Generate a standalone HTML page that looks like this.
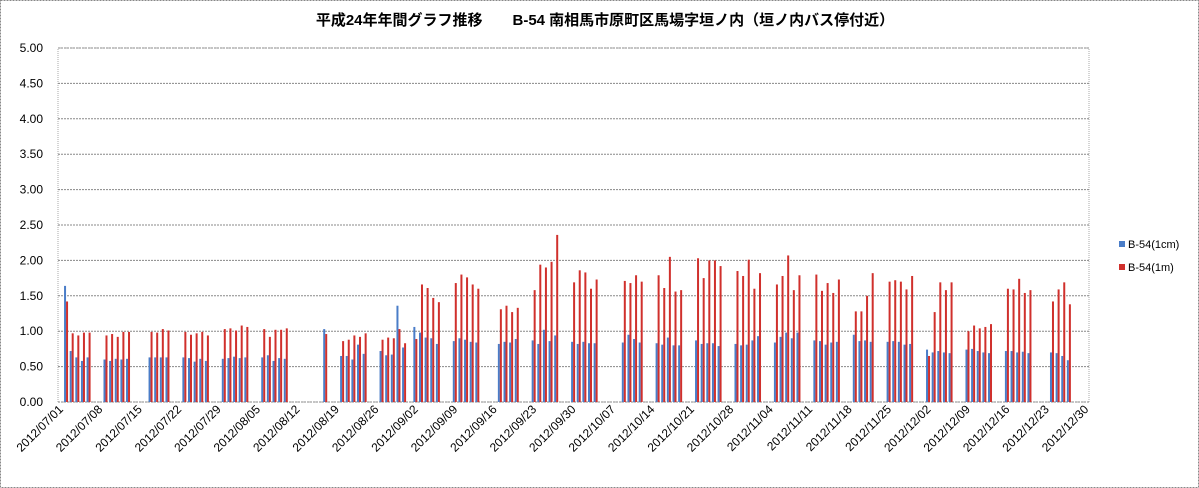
<!DOCTYPE html>
<html><head><meta charset="utf-8"><style>
html,body{margin:0;padding:0;background:#fff}
#wrap{position:relative;width:1199px;height:488px;overflow:hidden}
svg text{font-family:"Liberation Sans","Noto Sans CJK JP",sans-serif}
</style></head><body>
<div id="wrap">
<svg id="chart" width="1199" height="488" viewBox="0 0 1199 488" xmlns="http://www.w3.org/2000/svg">
<rect x="0.5" y="0.5" width="1198" height="487" fill="#fff" stroke="#888" stroke-dasharray="2,1"/>
<text x="605" y="25" text-anchor="middle" font-size="15" font-weight="bold" fill="#000">平成24年年間グラフ推移　　B-54 南相馬市原町区馬場字垣ノ内（垣ノ内バス停付近）</text>
<g id="grid"></g><g id="bars"></g><g id="yax"></g><g id="xax"></g>
<g>
<rect x="1119" y="241" width="6" height="6" fill="#4a7dc8"/>
<text x="1128" y="248" font-size="11" fill="#000">B-54(1cm)</text>
<rect x="1119" y="264" width="6" height="6" fill="#d0302c"/>
<text x="1128" y="271" font-size="11" fill="#000">B-54(1m)</text>
</g>
</svg></div>
<script>
const dayCount = 183;
const tickLabels = ["2012/07/01","2012/07/08","2012/07/15","2012/07/22","2012/07/29","2012/08/05","2012/08/12","2012/08/19","2012/08/26","2012/09/02","2012/09/09","2012/09/16","2012/09/23","2012/09/30","2012/10/07","2012/10/14","2012/10/21","2012/10/28","2012/11/04","2012/11/11","2012/11/18","2012/11/25","2012/12/02","2012/12/09","2012/12/16","2012/12/23","2012/12/30"];
const yTicks = [0,0.5,1,1.5,2,2.5,3,3.5,4,4.5,5];
const days = [1,2,3,4,5, 8,9,10,11,12, 16,17,18,19, 22,23,24,25,26, 29,30,31,32,33, 36,37,38,39,40, 47, 50,51,52,53,54, 57,58,59,60,61, 63,64,65,66,67, 70,71,72,73,74, 78,79,80,81, 84,85,86,87,88, 91,92,93,94,95, 100,101,102,103, 106,107,108,109,110, 113,114,115,116,117, 120,121,122,123,124, 127,128,129,130,131, 134,135,136,137,138, 141,142,143,144, 147,148,149,150,151, 154,155,156,157,158, 161,162,163,164,165, 168,169,170,171,172, 176,177,178,179];
const cm1 = [1.64,0.72,0.63,0.58,0.63, 0.60,0.58,0.61,0.60,0.61, 0.63,0.63,0.63,0.63, 0.63,0.62,0.57,0.61,0.58, 0.61,0.62,0.64,0.62,0.63, 0.63,0.66,0.58,0.62,0.61, 1.03, 0.65,0.65,0.60,0.81,0.68, 0.72,0.66,0.67,1.36,0.77, 1.06,0.98,0.91,0.90,0.82, 0.86,0.90,0.88,0.85,0.84, 0.82,0.85,0.84,0.89, 0.87,0.82,1.02,0.86,0.94, 0.85,0.82,0.85,0.83,0.83, 0.84,0.95,0.89,0.84, 0.83,0.81,0.91,0.80,0.80, 0.87,0.82,0.83,0.83,0.79, 0.82,0.80,0.81,0.87,0.93, 0.84,0.92,0.98,0.90,0.98, 0.87,0.86,0.81,0.84,0.85, 0.95,0.86,0.87,0.85, 0.85,0.86,0.85,0.81,0.82, 0.74,0.70,0.72,0.70,0.69, 0.74,0.75,0.72,0.70,0.69, 0.72,0.72,0.70,0.71,0.69, 0.70,0.69,0.65,0.59];
const m1 = [1.42,0.97,0.94,0.98,0.98, 0.94,0.96,0.92,0.99,0.99, 0.99,0.98,1.03,1.01, 0.99,0.95,0.97,0.99,0.94, 1.03,1.04,1.01,1.08,1.06, 1.03,0.92,1.02,1.02,1.04, 0.96, 0.86,0.88,0.94,0.92,0.97, 0.88,0.91,0.90,1.03,0.83, 0.89,1.66,1.61,1.47,1.41, 1.68,1.80,1.76,1.66,1.60, 1.31,1.36,1.27,1.33, 1.58,1.94,1.90,1.98,2.36, 1.69,1.86,1.83,1.60,1.73, 1.71,1.68,1.79,1.70, 1.79,1.61,2.05,1.56,1.58, 2.03,1.75,2.00,2.00,1.92, 1.85,1.78,2.01,1.60,1.82, 1.66,1.78,2.07,1.58,1.79, 1.80,1.57,1.68,1.54,1.73, 1.28,1.28,1.50,1.82, 1.70,1.72,1.70,1.59,1.78, 0.65,1.27,1.69,1.58,1.69, 1.00,1.08,1.04,1.06,1.10, 1.60,1.59,1.74,1.54,1.58, 1.42,1.59,1.69,1.38];

const NS="http://www.w3.org/2000/svg";
const X0=58, X1=1089, Y0=402, Y1=48, YMAX=5;
const dw=(X1-X0)/dayCount;
function xc(d){return X0+dw*(d+0.5);}
function yv(v){return Y0-(v/YMAX)*(Y0-Y1);}
function mk(tag,attrs,parent){const e=document.createElementNS(NS,tag);for(const k in attrs)e.setAttribute(k,attrs[k]);parent.appendChild(e);return e;}
const grid=document.getElementById('grid'),yax=document.getElementById('yax'),xax=document.getElementById('xax'),bars=document.getElementById('bars');
mk('rect',{x:X0,y:Y1,width:X1-X0,height:Y0-Y1,fill:'none',stroke:'#aaa','stroke-dasharray':'1,1'},grid);
yTicks.forEach(t=>{
  const l=mk('line',{x1:X0,x2:X1,y1:yv(t),y2:yv(t),stroke:'#888','stroke-dasharray':'2,1'},grid);
  
  
  const tx=mk('text',{x:43,y:yv(t)+4,'text-anchor':'end','font-size':12,fill:'#000'},yax);
  tx.textContent=t.toFixed(2);
  
  
});
tickLabels.forEach((s,i)=>{
  const x=xc(i*7)+3, y=410;
  const tx=mk('text',{x:x,y:y,'text-anchor':'end','font-size':12,fill:'#000',transform:`rotate(-45 ${x} ${y})`},xax);
  tx.textContent=s;
  
  
});
days.forEach((d,i)=>{
  const c=xc(d);
  const b=mk('rect',{x:c-2.4,y:yv(cm1[i]),width:2,height:Y0-yv(cm1[i]),fill:'#4a7dc8'},bars);
  
  
  const r=mk('rect',{x:c-0.4,y:yv(m1[i]),width:2,height:Y0-yv(m1[i]),fill:'#d0302c'},bars);
  
  
});
</script>
</body></html>
